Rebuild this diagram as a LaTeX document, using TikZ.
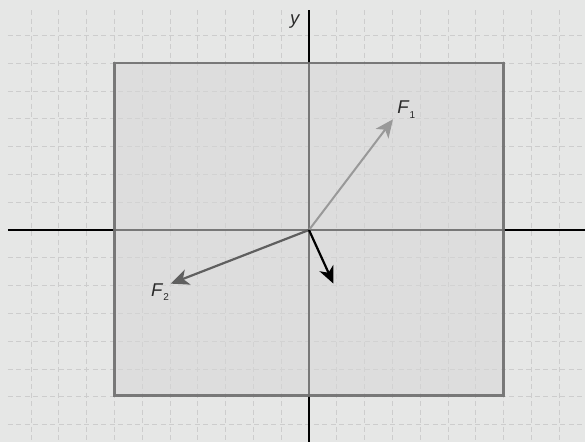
\documentclass[tikz,border=0pt]{standalone}
\usepackage{fontspec}
\setmainfont{Liberation Sans}
\usetikzlibrary{arrows.meta}
\definecolor{bgc}{HTML}{E6E7E6}
\definecolor{gridc}{HTML}{CDCDCD}
\definecolor{rectfill}{HTML}{D6D6D6}
\definecolor{rectdraw}{HTML}{6E6E6E}
\definecolor{fonec}{HTML}{999999}
\definecolor{ftwoc}{HTML}{5F5F5F}
\definecolor{labc}{HTML}{2A2A2A}
\begin{document}
\begin{tikzpicture}[x=27.8pt,y=27.8pt,
  gridline/.style={draw=gridc,line width=0.9pt,dash pattern=on 5pt off 3.5pt},
  axisline/.style={draw=black,line width=1.4pt},
  lab/.style={text=labc,inner sep=0pt,font=\fontsize{18.5}{18.5}\selectfont}]
\useasboundingbox[fill=bgc] (-11.115,-7.626) rectangle (9.928,8.273);
% grid
\foreach \i in {-10,...,9}{\draw[gridline] (\i,7.91) -- (\i,-7.7);}
\foreach \j in {-7,...,7}{\draw[gridline] (-10.83,\j) -- (10,\j);}
% axes
\coordinate (O) at (0,0);
\coordinate (xl) at (-10.83,0);
\coordinate (xr) at (10,0);
\coordinate (yt) at (0,7.91);
\coordinate (yb) at (0,-7.7);
\draw[axisline] (xl) -- (xr);
\draw[axisline] (yt) -- (yb);
% plate
\path[fill=rectfill,fill opacity=0.56,draw=rectdraw,draw opacity=0.9,line width=2.4pt] (-7,-5.96) rectangle (7,6);
% vectors
\coordinate (F1tip) at (3.02,3.98);
\coordinate (F2tip) at (-4.97,-1.93);
\coordinate (F3tip) at (0.88,-1.93);
\draw[draw=fonec,line width=2pt,-{Stealth[length=18pt,width=16pt,inset=5pt,fill=fonec]}] (O) -- (F1tip);
\draw[draw=ftwoc,line width=2.2pt,-{Stealth[length=18pt,width=16pt,inset=5pt,fill=ftwoc]}] (O) -- (F2tip);
\draw[draw=black,line width=2.2pt,-{Stealth[length=17pt,width=15pt,inset=5pt,fill=black]}] (O) -- (F3tip);
% labels
\node[lab] (F1lab) at (3.5,4.33) {\textit{F}\raisebox{-0.45ex}{\fontsize{10}{10}\selectfont 1}};
\node[lab] (F2lab) at (-5.36,-2.24) {\textit{F}\raisebox{-0.45ex}{\fontsize{10}{10}\selectfont 2}};
\node[lab] (ylab) at (-0.5,7.5) {\textit{y}};
\end{tikzpicture}
\end{document}
